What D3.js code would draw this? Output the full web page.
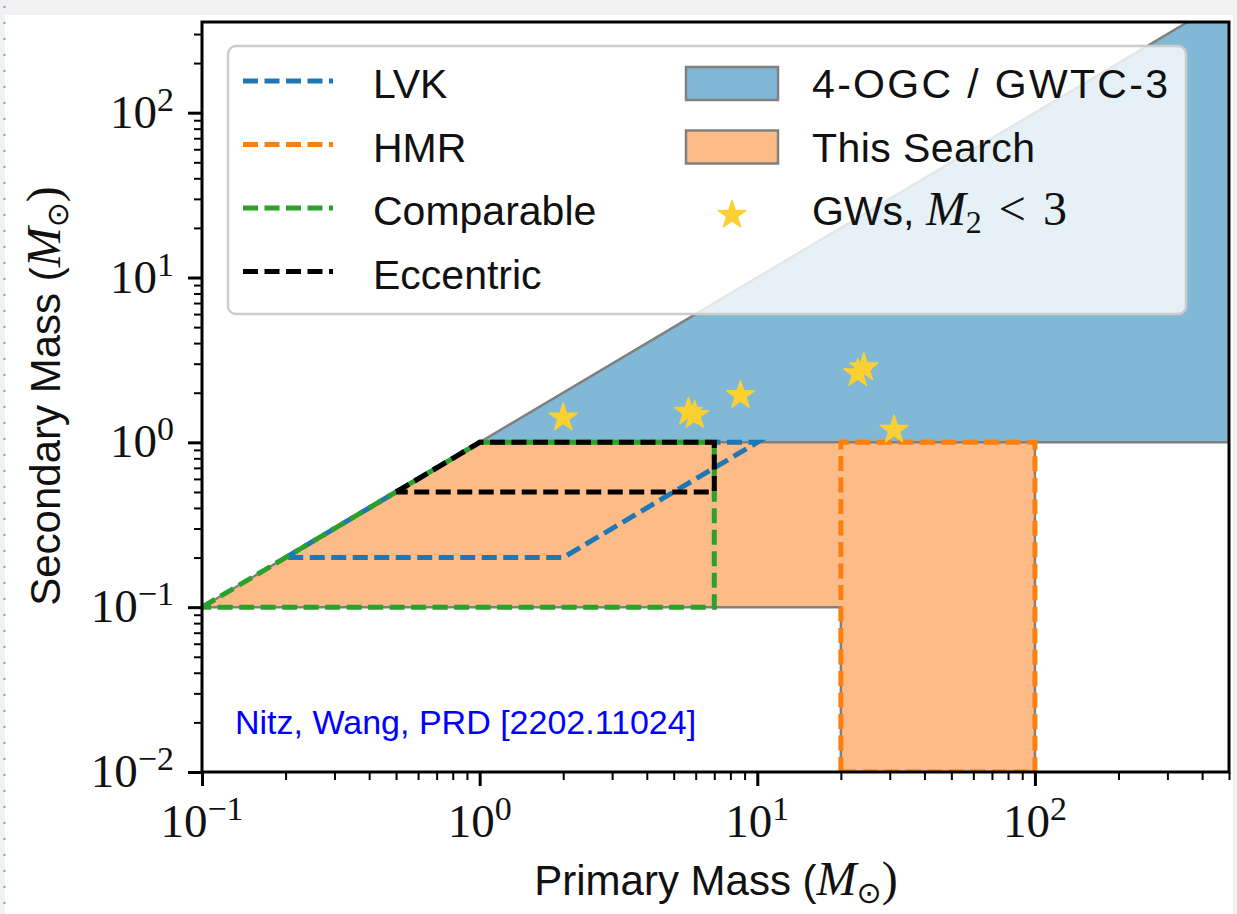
<!DOCTYPE html>
<html>
<head>
<meta charset="utf-8">
<script src="https://cdn.jsdelivr.net/npm/d3@7/dist/d3.min.js"></script>
<style>
body { margin: 0; background: #f1f1f1; }
svg { display: block; }
</style>
</head>
<body>
<svg id="chart" width="1237" height="914"></svg>
<script>
////////////////////////////////////////////////////////////
//////////////////////// Data //////////////////////////////
////////////////////////////////////////////////////////////

var xDomain = [0.1, 500],
	yDomain = [0.01, 355];

var majorX = [0.1, 1, 10, 100],
	majorY = [0.01, 0.1, 1, 10, 100];

//region covered by 4-OGC / GWTC-3 (primary, secondary)
var ogcRegion = [[1, 1], [1000, 1000], [1000, 1]];
//region covered by this search
var searchRegion = [[0.1, 0.1], [1, 1], [100, 1], [100, 0.01], [20, 0.01], [20, 0.1]];

//boundaries of the individual template banks
var lvkBounds = [[0.2, 0.2], [1, 1], [10, 1], [2, 0.2], [0.2, 0.2]],
	hmrBounds = [[20, 0.01], [20, 1], [100, 1], [100, 0.01], [20, 0.01]],
	comparableBounds = [[0.1, 0.1], [1, 1], [7, 1], [7, 0.1], [0.1, 0.1]],
	eccentricBounds = [[0.5, 0.5], [1, 1], [7, 1], [7, 0.5], [0.5, 0.5]];

//observed mergers with a light secondary
var gwPrimary = [2.0, 5.65, 5.95, 8.7, 23.0, 24.2, 31.1],
	gwSecondary = [1.41, 1.53, 1.46, 1.93, 2.62, 2.84, 1.19];

var bankNames = ["LVK", "HMR", "Comparable", "Eccentric"],
	bankColors = ["#1f77b4", "#ff7f0e", "#2ca02c", "#000000"];

////////////////////////////////////////////////////////////
//////////////////////// Setup /////////////////////////////
////////////////////////////////////////////////////////////

var plot = {left: 202, top: 22, right: 1229, bottom: 772};

var svg = d3.select("#chart");

//white page with the grey strip at the top and the dotted rule at the left
svg.append("rect")
	.attr("x", 5).attr("y", 15)
	.attr("width", 1228).attr("height", 899)
	.style("fill", "#ffffff");
svg.append("line")
	.attr("x1", 4.5).attr("x2", 4.5)
	.attr("y1", 6).attr("y2", 914)
	.style("stroke", "#6fa8dc")
	.style("stroke-width", 2)
	.style("stroke-dasharray", "2,14");

var x = d3.scaleLog().domain(xDomain).range([plot.left, plot.right]),
	y = d3.scaleLog().domain(yDomain).range([plot.bottom, plot.top]);

svg.append("clipPath").attr("id", "plotClip")
	.append("rect")
	.attr("x", plot.left).attr("y", plot.top)
	.attr("width", plot.right - plot.left)
	.attr("height", plot.bottom - plot.top);

var inner = svg.append("g").attr("clip-path", "url(#plotClip)");

var line = d3.line()
	.x(function(d) { return x(d[0]); })
	.y(function(d) { return y(d[1]); });

////////////////////////////////////////////////////////////
//////////////////////// Regions ///////////////////////////
////////////////////////////////////////////////////////////

inner.append("path")
	.attr("d", line(ogcRegion) + "Z")
	.style("fill", "#80b8d6")
	.style("stroke", "#808080")
	.style("stroke-width", 2.5);

inner.append("path")
	.attr("d", line(searchRegion) + "Z")
	.style("fill", "#fdbb87")
	.style("stroke", "#808080")
	.style("stroke-width", 2.5);

var bounds = [lvkBounds, hmrBounds, comparableBounds, eccentricBounds];
inner.selectAll(".bank")
	.data(bounds)
	.enter().append("path")
	.attr("class", "bank")
	.attr("d", function(d) { return line(d); })
	.style("fill", "none")
	.style("stroke", function(d, i) { return bankColors[i]; })
	.style("stroke-width", 5)
	.style("stroke-dasharray", "15,6.5");

var star = d3.symbol().type(d3.symbolStar).size(240);

inner.selectAll(".gw")
	.data(gwPrimary)
	.enter().append("path")
	.attr("class", "gw")
	.attr("d", star)
	.attr("transform", function(d, i) { return "translate(" + x(d) + "," + y(gwSecondary[i]) + ")"; })
	.style("fill", "#fdd032")
	.style("stroke", "#fdd032")
	.style("stroke-width", 1.5)
	.style("stroke-linejoin", "round");

////////////////////////////////////////////////////////////
//////////////////////// Axes //////////////////////////////
////////////////////////////////////////////////////////////

function minorTicks(majors, domain) {
	var out = [];
	majors.concat([majors[majors.length - 1] * 10]).forEach(function(m) {
		for (var k = 2; k < 10; k++) {
			var v = m * k / 10;
			if (v > domain[0] && v <= domain[1] * 1.0001) out.push(v);
		}
	});
	return out;
}

function powerLabel(sel, value) {
	var e = Math.round(Math.log10(value));
	sel.text(null);
	sel.append("tspan").text("10");
	sel.append("tspan")
		.attr("dy", -17)
		.style("font-size", "34px")
		.text(e < 0 ? "\u2212" + (-e) : e);
}

var xAxisG = svg.append("g").attr("transform", "translate(0," + plot.bottom + ")");
xAxisG.call(d3.axisBottom(x).tickValues(minorTicks(majorX, xDomain)).tickSize(8).tickFormat(""));
xAxisG.selectAll("line").style("stroke", "#000").style("stroke-width", 2);
var xMajorG = svg.append("g").attr("transform", "translate(0," + plot.bottom + ")");
xMajorG.call(d3.axisBottom(x).tickValues(majorX).tickSize(14).tickFormat(""));
xMajorG.selectAll("line").style("stroke", "#000").style("stroke-width", 3);

var yAxisG = svg.append("g").attr("transform", "translate(" + plot.left + ",0)");
yAxisG.call(d3.axisLeft(y).tickValues(minorTicks(majorY, yDomain)).tickSize(8).tickFormat(""));
yAxisG.selectAll("line").style("stroke", "#000").style("stroke-width", 2);
var yMajorG = svg.append("g").attr("transform", "translate(" + plot.left + ",0)");
yMajorG.call(d3.axisLeft(y).tickValues(majorY).tickSize(14).tickFormat(""));
yMajorG.selectAll("line").style("stroke", "#000").style("stroke-width", 3);
svg.selectAll(".domain").remove();

var tickFont = "'Liberation Serif', 'Times New Roman', serif";

svg.selectAll(".xTickLabel")
	.data(majorX)
	.enter().append("text")
	.attr("class", "xTickLabel")
	.attr("x", function(d) { return x(d); })
	.attr("y", 837)
	.style("text-anchor", "middle")
	.style("font-family", tickFont)
	.style("font-size", "47px")
	.style("fill", "#111")
	.each(function(d) { powerLabel(d3.select(this), d); });

svg.selectAll(".yTickLabel")
	.data(majorY)
	.enter().append("text")
	.attr("class", "yTickLabel")
	.attr("x", 174)
	.attr("y", function(d) { return y(d) + 15; })
	.style("text-anchor", "end")
	.style("font-family", tickFont)
	.style("font-size", "47px")
	.style("fill", "#111")
	.each(function(d) { powerLabel(d3.select(this), d); });

//frame
svg.append("rect")
	.attr("x", plot.left).attr("y", plot.top)
	.attr("width", plot.right - plot.left)
	.attr("height", plot.bottom - plot.top)
	.style("fill", "none")
	.style("stroke", "#000")
	.style("stroke-width", 3);

var sansFont = "'Liberation Sans', Arial, sans-serif";

function massTitle(sel, label) {
	sel.append("tspan").text(label + " (");
	sel.append("tspan").style("font-family", tickFont).style("font-style", "italic").style("font-size", "48px").text("M");
	sel.append("tspan").attr("dy", 8).style("font-size", "30px").style("font-family", "'DejaVu Sans'").text("\u2299");
	sel.append("tspan").attr("dy", -8).style("font-family", tickFont).style("font-size", "48px").text(")");
}

svg.append("text")
	.attr("x", 716).attr("y", 895)
	.style("text-anchor", "middle")
	.style("font-family", sansFont)
	.style("font-size", "42px")
	.style("fill", "#111")
	.call(massTitle, "Primary Mass");

svg.append("text")
	.attr("transform", "translate(60,396) rotate(-90)")
	.style("text-anchor", "middle")
	.style("font-family", sansFont)
	.style("font-size", "42px")
	.style("fill", "#111")
	.call(massTitle, "Secondary Mass");

//citation
svg.append("text")
	.attr("x", 235).attr("y", 734)
	.style("font-family", sansFont)
	.style("font-size", "34px")
	.style("fill", "#0000ff")
	.text("Nitz, Wang, PRD [2202.11024]");

////////////////////////////////////////////////////////////
//////////////////////// Legend ////////////////////////////
////////////////////////////////////////////////////////////

svg.append("rect")
	.attr("x", 228).attr("y", 46)
	.attr("width", 958).attr("height", 268)
	.attr("rx", 8)
	.style("fill", "#ffffff")
	.style("fill-opacity", 0.8)
	.style("stroke", "#cccccc")
	.style("stroke-width", 2.5);

var rowGap = 63.5;

var bankLegend = svg.selectAll(".bankLegend")
	.data(bankNames)
	.enter().append("g")
	.attr("class", "bankLegend")
	.attr("transform", function(d, i) { return "translate(0," + (98 + i * rowGap) + ")"; });

bankLegend.append("line")
	.attr("x1", 243).attr("x2", 333)
	.attr("y1", -17).attr("y2", -17)
	.style("stroke", function(d, i) { return bankColors[i]; })
	.style("stroke-width", 5)
	.style("stroke-dasharray", "15,6.5");

bankLegend.append("text")
	.attr("x", 373)
	.style("font-family", sansFont)
	.style("font-size", "41px")
	.style("fill", "#111")
	.text(function(d) { return d; });

var regionLegend = [
	{name: "4-OGC / GWTC-3", fill: "#80b8d6", len: 356},
	{name: "This Search", fill: "#fdbb87", len: 223}
];

var regionG = svg.selectAll(".regionLegend")
	.data(regionLegend)
	.enter().append("g")
	.attr("class", "regionLegend")
	.attr("transform", function(d, i) { return "translate(0," + (98 + i * rowGap) + ")"; });

regionG.append("rect")
	.attr("x", 686).attr("y", -31)
	.attr("width", 92).attr("height", 33)
	.style("fill", function(d) { return d.fill; })
	.style("stroke", "#808080")
	.style("stroke-width", 2.5);

regionG.append("text")
	.attr("x", 812)
	.attr("textLength", function(d) { return d.len; })
	.attr("lengthAdjust", "spacing")
	.style("font-family", sansFont)
	.style("font-size", "41px")
	.style("fill", "#111")
	.text(function(d) { return d.name; });

var gwRow = svg.append("g").attr("transform", "translate(0," + (98 + 2 * rowGap) + ")");
gwRow.append("path")
	.attr("d", star)
	.attr("transform", "translate(732,-10)")
	.style("fill", "#fdd032")
	.style("stroke", "#fdd032")
	.style("stroke-width", 1.5)
	.style("stroke-linejoin", "round");
var gwText = gwRow.append("text")
	.attr("x", 812)
	.style("font-family", sansFont)
	.style("font-size", "41px")
	.style("fill", "#111");
gwText.append("tspan").text("GWs, ");
gwText.append("tspan").style("font-family", tickFont).style("font-style", "italic").style("font-size", "48px").text("M");
gwText.append("tspan").attr("dy", 8).style("font-family", tickFont).style("font-size", "32px").text("2");
gwText.append("tspan").attr("dy", -8).attr("dx", 17).style("font-family", tickFont).style("font-size", "48px").text("<");
gwText.append("tspan").attr("dx", 17).style("font-family", tickFont).style("font-size", "48px").text("3");
</script>
</body>
</html>
